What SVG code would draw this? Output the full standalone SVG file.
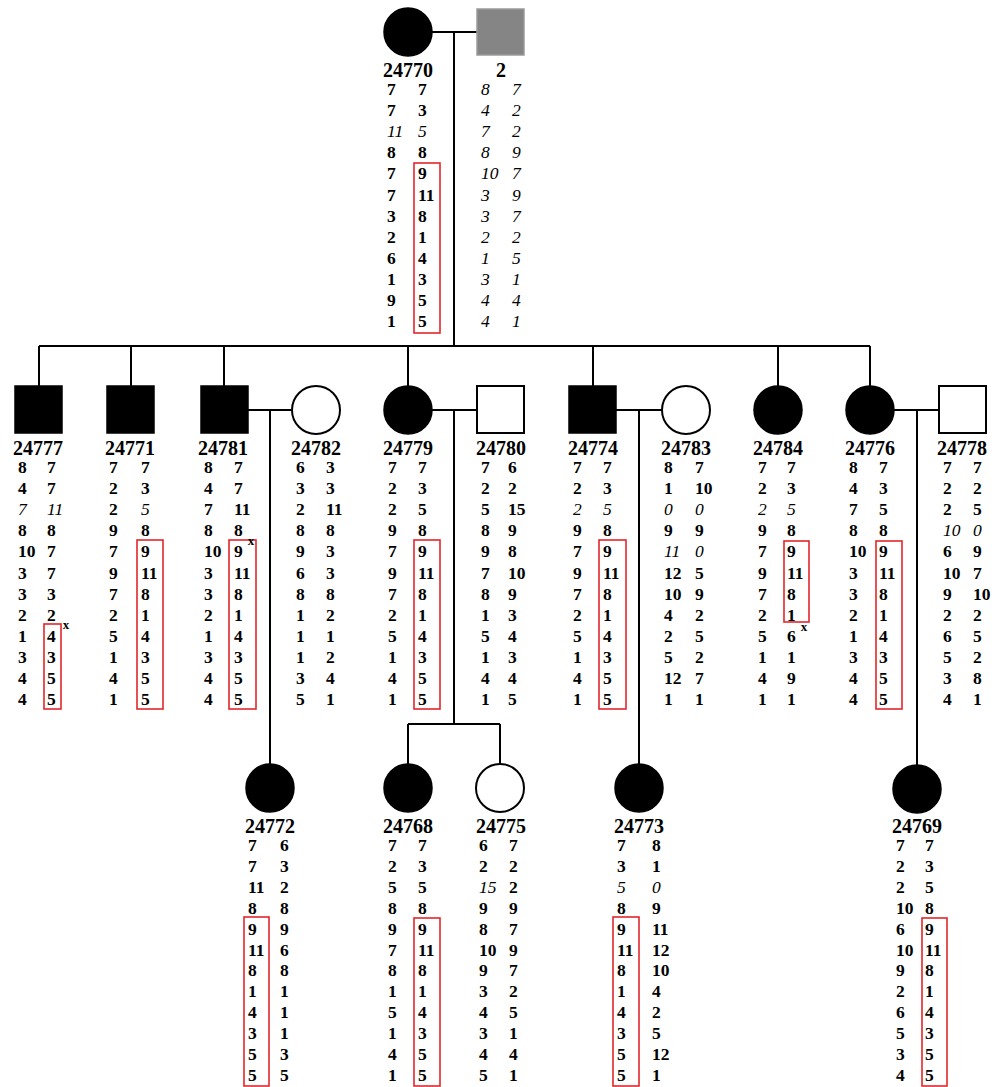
<svg xmlns="http://www.w3.org/2000/svg" width="1003" height="1087" viewBox="0 0 1003 1087">
<style>
.lbl{font:bold 20px "Liberation Serif",serif;text-anchor:middle;fill:#000}
.d{font:bold 17.5px "Liberation Serif",serif;fill:#000}
.i{font-style:italic;font-weight:normal}
.box{fill:none;stroke:#e3262b;stroke-width:1.6}
.aff{fill:#000;stroke:#000;stroke-width:1.5}
.un{fill:#fff;stroke:#000;stroke-width:2}
.gray{fill:#858585;stroke:#9a9a9a;stroke-width:1.5}
.ln{stroke:#000;stroke-width:2;fill:none}
.xm{font:bold 13px "Liberation Serif",serif;text-anchor:middle}
</style>
<rect width="1003" height="1087" fill="#fff"/>
<g id="connectors" class="ln">
<path d="M432 32H477M454 32V346M39 346H870M39 346V386M131 346V386M224 346V386M408 346V386M593 346V386M778 346V386M870 346V386"/>
<path d="M248 410H292M270 410V764M432 410H477M454 410V724M408 724H500M408 724V764M500 724V764M616 410H662M639 410V764M894 410H939M917 410V765"/>
</g>
<g id="n24770"><circle class="aff" cx="408" cy="32" r="24"/><text class="lbl" x="408" y="77">24770</text>
<text class="d" y="95"><tspan x="387">7</tspan><tspan x="387" dy="21.1">7</tspan><tspan x="387" dy="21.1" class="i">11</tspan><tspan x="387" dy="21.1">8</tspan><tspan x="387" dy="21.1">7</tspan><tspan x="387" dy="21.1">7</tspan><tspan x="387" dy="21.1">3</tspan><tspan x="387" dy="21.1">2</tspan><tspan x="387" dy="21.1">6</tspan><tspan x="387" dy="21.1">1</tspan><tspan x="387" dy="21.1">9</tspan><tspan x="387" dy="21.1">1</tspan></text>
<text class="d" y="95"><tspan x="418">7</tspan><tspan x="418" dy="21.1">3</tspan><tspan x="418" dy="21.1" class="i">5</tspan><tspan x="418" dy="21.1">8</tspan><tspan x="418" dy="21.1">9</tspan><tspan x="418" dy="21.1">11</tspan><tspan x="418" dy="21.1">8</tspan><tspan x="418" dy="21.1">1</tspan><tspan x="418" dy="21.1">4</tspan><tspan x="418" dy="21.1">3</tspan><tspan x="418" dy="21.1">5</tspan><tspan x="418" dy="21.1">5</tspan></text>
<rect class="box" x="414" y="163" width="26" height="170"/></g>
<g id="n2"><rect class="gray" x="477" y="9" width="47" height="46"/><text class="lbl" x="501" y="77">2</text>
<text class="d i" y="95"><tspan x="481">8</tspan><tspan x="481" dy="21.1">4</tspan><tspan x="481" dy="21.1">7</tspan><tspan x="481" dy="21.1">8</tspan><tspan x="481" dy="21.1">10</tspan><tspan x="481" dy="21.1">3</tspan><tspan x="481" dy="21.1">3</tspan><tspan x="481" dy="21.1">2</tspan><tspan x="481" dy="21.1">1</tspan><tspan x="481" dy="21.1">3</tspan><tspan x="481" dy="21.1">4</tspan><tspan x="481" dy="21.1">4</tspan></text>
<text class="d i" y="95"><tspan x="512">7</tspan><tspan x="512" dy="21.1">2</tspan><tspan x="512" dy="21.1">2</tspan><tspan x="512" dy="21.1">9</tspan><tspan x="512" dy="21.1">7</tspan><tspan x="512" dy="21.1">9</tspan><tspan x="512" dy="21.1">7</tspan><tspan x="512" dy="21.1">2</tspan><tspan x="512" dy="21.1">5</tspan><tspan x="512" dy="21.1">1</tspan><tspan x="512" dy="21.1">4</tspan><tspan x="512" dy="21.1">1</tspan></text></g>
<g id="n24777"><rect class="aff" x="15" y="386" width="47" height="47"/><text class="lbl" x="38" y="455">24777</text>
<text class="d" y="473"><tspan x="18">8</tspan><tspan x="18" dy="21.1">4</tspan><tspan x="18" dy="21.1" class="i">7</tspan><tspan x="18" dy="21.1">8</tspan><tspan x="18" dy="21.1">10</tspan><tspan x="18" dy="21.1">3</tspan><tspan x="18" dy="21.1">3</tspan><tspan x="18" dy="21.1">2</tspan><tspan x="18" dy="21.1">1</tspan><tspan x="18" dy="21.1">3</tspan><tspan x="18" dy="21.1">4</tspan><tspan x="18" dy="21.1">4</tspan></text>
<text class="d" y="473"><tspan x="47">7</tspan><tspan x="47" dy="21.1">7</tspan><tspan x="47" dy="21.1" class="i">11</tspan><tspan x="47" dy="21.1">8</tspan><tspan x="47" dy="21.1">7</tspan><tspan x="47" dy="21.1">7</tspan><tspan x="47" dy="21.1">3</tspan><tspan x="47" dy="21.1">2</tspan><tspan x="47" dy="21.1">4</tspan><tspan x="47" dy="21.1">3</tspan><tspan x="47" dy="21.1">5</tspan><tspan x="47" dy="21.1">5</tspan></text>
<rect class="box" x="44" y="624" width="17" height="85"/><text class="xm" x="66" y="629">x</text></g>
<g id="n24771"><rect class="aff" x="107" y="386" width="47" height="47"/><text class="lbl" x="130" y="455">24771</text>
<text class="d" y="473"><tspan x="109">7</tspan><tspan x="109" dy="21.1">2</tspan><tspan x="109" dy="21.1">2</tspan><tspan x="109" dy="21.1">9</tspan><tspan x="109" dy="21.1">7</tspan><tspan x="109" dy="21.1">9</tspan><tspan x="109" dy="21.1">7</tspan><tspan x="109" dy="21.1">2</tspan><tspan x="109" dy="21.1">5</tspan><tspan x="109" dy="21.1">1</tspan><tspan x="109" dy="21.1">4</tspan><tspan x="109" dy="21.1">1</tspan></text>
<text class="d" y="473"><tspan x="141">7</tspan><tspan x="141" dy="21.1">3</tspan><tspan x="141" dy="21.1" class="i">5</tspan><tspan x="141" dy="21.1">8</tspan><tspan x="141" dy="21.1">9</tspan><tspan x="141" dy="21.1">11</tspan><tspan x="141" dy="21.1">8</tspan><tspan x="141" dy="21.1">1</tspan><tspan x="141" dy="21.1">4</tspan><tspan x="141" dy="21.1">3</tspan><tspan x="141" dy="21.1">5</tspan><tspan x="141" dy="21.1">5</tspan></text>
<rect class="box" x="137" y="540" width="26" height="169"/></g>
<g id="n24781"><rect class="aff" x="201" y="386" width="47" height="47"/><text class="lbl" x="223" y="455">24781</text>
<text class="d" y="473"><tspan x="204">8</tspan><tspan x="204" dy="21.1">4</tspan><tspan x="204" dy="21.1">7</tspan><tspan x="204" dy="21.1">8</tspan><tspan x="204" dy="21.1">10</tspan><tspan x="204" dy="21.1">3</tspan><tspan x="204" dy="21.1">3</tspan><tspan x="204" dy="21.1">2</tspan><tspan x="204" dy="21.1">1</tspan><tspan x="204" dy="21.1">3</tspan><tspan x="204" dy="21.1">4</tspan><tspan x="204" dy="21.1">4</tspan></text>
<text class="d" y="473"><tspan x="234">7</tspan><tspan x="234" dy="21.1">7</tspan><tspan x="234" dy="21.1">11</tspan><tspan x="234" dy="21.1">8</tspan><tspan x="234" dy="21.1">9</tspan><tspan x="234" dy="21.1">11</tspan><tspan x="234" dy="21.1">8</tspan><tspan x="234" dy="21.1">1</tspan><tspan x="234" dy="21.1">4</tspan><tspan x="234" dy="21.1">3</tspan><tspan x="234" dy="21.1">5</tspan><tspan x="234" dy="21.1">5</tspan></text>
<rect class="box" x="229" y="540" width="27" height="169"/><text class="xm" x="251" y="545">x</text></g>
<g id="n24782"><circle class="un" cx="316" cy="410" r="24"/><text class="lbl" x="316" y="455">24782</text>
<text class="d" y="473"><tspan x="296">6</tspan><tspan x="296" dy="21.1">3</tspan><tspan x="296" dy="21.1">2</tspan><tspan x="296" dy="21.1">8</tspan><tspan x="296" dy="21.1">9</tspan><tspan x="296" dy="21.1">6</tspan><tspan x="296" dy="21.1">8</tspan><tspan x="296" dy="21.1">1</tspan><tspan x="296" dy="21.1">1</tspan><tspan x="296" dy="21.1">1</tspan><tspan x="296" dy="21.1">3</tspan><tspan x="296" dy="21.1">5</tspan></text>
<text class="d" y="473"><tspan x="326">3</tspan><tspan x="326" dy="21.1">3</tspan><tspan x="326" dy="21.1">11</tspan><tspan x="326" dy="21.1">8</tspan><tspan x="326" dy="21.1">3</tspan><tspan x="326" dy="21.1">3</tspan><tspan x="326" dy="21.1">8</tspan><tspan x="326" dy="21.1">2</tspan><tspan x="326" dy="21.1">1</tspan><tspan x="326" dy="21.1">2</tspan><tspan x="326" dy="21.1">4</tspan><tspan x="326" dy="21.1">1</tspan></text></g>
<g id="n24779"><circle class="aff" cx="408" cy="410" r="24"/><text class="lbl" x="408" y="455">24779</text>
<text class="d" y="473"><tspan x="388">7</tspan><tspan x="388" dy="21.1">2</tspan><tspan x="388" dy="21.1">2</tspan><tspan x="388" dy="21.1">9</tspan><tspan x="388" dy="21.1">7</tspan><tspan x="388" dy="21.1">9</tspan><tspan x="388" dy="21.1">7</tspan><tspan x="388" dy="21.1">2</tspan><tspan x="388" dy="21.1">5</tspan><tspan x="388" dy="21.1">1</tspan><tspan x="388" dy="21.1">4</tspan><tspan x="388" dy="21.1">1</tspan></text>
<text class="d" y="473"><tspan x="418">7</tspan><tspan x="418" dy="21.1">3</tspan><tspan x="418" dy="21.1">5</tspan><tspan x="418" dy="21.1">8</tspan><tspan x="418" dy="21.1">9</tspan><tspan x="418" dy="21.1">11</tspan><tspan x="418" dy="21.1">8</tspan><tspan x="418" dy="21.1">1</tspan><tspan x="418" dy="21.1">4</tspan><tspan x="418" dy="21.1">3</tspan><tspan x="418" dy="21.1">5</tspan><tspan x="418" dy="21.1">5</tspan></text>
<rect class="box" x="414" y="540" width="26" height="169"/></g>
<g id="n24780"><rect class="un" x="477" y="386" width="47" height="47"/><text class="lbl" x="501" y="455">24780</text>
<text class="d" y="473"><tspan x="481">7</tspan><tspan x="481" dy="21.1">2</tspan><tspan x="481" dy="21.1">5</tspan><tspan x="481" dy="21.1">8</tspan><tspan x="481" dy="21.1">9</tspan><tspan x="481" dy="21.1">7</tspan><tspan x="481" dy="21.1">8</tspan><tspan x="481" dy="21.1">1</tspan><tspan x="481" dy="21.1">5</tspan><tspan x="481" dy="21.1">1</tspan><tspan x="481" dy="21.1">4</tspan><tspan x="481" dy="21.1">1</tspan></text>
<text class="d" y="473"><tspan x="508">6</tspan><tspan x="508" dy="21.1">2</tspan><tspan x="508" dy="21.1">15</tspan><tspan x="508" dy="21.1">9</tspan><tspan x="508" dy="21.1">8</tspan><tspan x="508" dy="21.1">10</tspan><tspan x="508" dy="21.1">9</tspan><tspan x="508" dy="21.1">3</tspan><tspan x="508" dy="21.1">4</tspan><tspan x="508" dy="21.1">3</tspan><tspan x="508" dy="21.1">4</tspan><tspan x="508" dy="21.1">5</tspan></text></g>
<g id="n24774"><rect class="aff" x="569" y="386" width="47" height="47"/><text class="lbl" x="593" y="455">24774</text>
<text class="d" y="473"><tspan x="573">7</tspan><tspan x="573" dy="21.1">2</tspan><tspan x="573" dy="21.1" class="i">2</tspan><tspan x="573" dy="21.1">9</tspan><tspan x="573" dy="21.1">7</tspan><tspan x="573" dy="21.1">9</tspan><tspan x="573" dy="21.1">7</tspan><tspan x="573" dy="21.1">2</tspan><tspan x="573" dy="21.1">5</tspan><tspan x="573" dy="21.1">1</tspan><tspan x="573" dy="21.1">4</tspan><tspan x="573" dy="21.1">1</tspan></text>
<text class="d" y="473"><tspan x="603">7</tspan><tspan x="603" dy="21.1">3</tspan><tspan x="603" dy="21.1" class="i">5</tspan><tspan x="603" dy="21.1">8</tspan><tspan x="603" dy="21.1">9</tspan><tspan x="603" dy="21.1">11</tspan><tspan x="603" dy="21.1">8</tspan><tspan x="603" dy="21.1">1</tspan><tspan x="603" dy="21.1">4</tspan><tspan x="603" dy="21.1">3</tspan><tspan x="603" dy="21.1">5</tspan><tspan x="603" dy="21.1">5</tspan></text>
<rect class="box" x="599" y="540" width="27" height="169"/></g>
<g id="n24783"><circle class="un" cx="686" cy="410" r="24"/><text class="lbl" x="686" y="455">24783</text>
<text class="d" y="473"><tspan x="664">8</tspan><tspan x="664" dy="21.1">1</tspan><tspan x="664" dy="21.1" class="i">0</tspan><tspan x="664" dy="21.1">9</tspan><tspan x="664" dy="21.1" class="i">11</tspan><tspan x="664" dy="21.1">12</tspan><tspan x="664" dy="21.1">10</tspan><tspan x="664" dy="21.1">4</tspan><tspan x="664" dy="21.1">2</tspan><tspan x="664" dy="21.1">5</tspan><tspan x="664" dy="21.1">12</tspan><tspan x="664" dy="21.1">1</tspan></text>
<text class="d" y="473"><tspan x="695">7</tspan><tspan x="695" dy="21.1">10</tspan><tspan x="695" dy="21.1" class="i">0</tspan><tspan x="695" dy="21.1">9</tspan><tspan x="695" dy="21.1" class="i">0</tspan><tspan x="695" dy="21.1">5</tspan><tspan x="695" dy="21.1">9</tspan><tspan x="695" dy="21.1">2</tspan><tspan x="695" dy="21.1">5</tspan><tspan x="695" dy="21.1">2</tspan><tspan x="695" dy="21.1">7</tspan><tspan x="695" dy="21.1">1</tspan></text></g>
<g id="n24784"><circle class="aff" cx="778" cy="410" r="24"/><text class="lbl" x="778" y="455">24784</text>
<text class="d" y="473"><tspan x="758">7</tspan><tspan x="758" dy="21.1">2</tspan><tspan x="758" dy="21.1" class="i">2</tspan><tspan x="758" dy="21.1">9</tspan><tspan x="758" dy="21.1">7</tspan><tspan x="758" dy="21.1">9</tspan><tspan x="758" dy="21.1">7</tspan><tspan x="758" dy="21.1">2</tspan><tspan x="758" dy="21.1">5</tspan><tspan x="758" dy="21.1">1</tspan><tspan x="758" dy="21.1">4</tspan><tspan x="758" dy="21.1">1</tspan></text>
<text class="d" y="473"><tspan x="787">7</tspan><tspan x="787" dy="21.1">3</tspan><tspan x="787" dy="21.1" class="i">5</tspan><tspan x="787" dy="21.1">8</tspan><tspan x="787" dy="21.1">9</tspan><tspan x="787" dy="21.1">11</tspan><tspan x="787" dy="21.1">8</tspan><tspan x="787" dy="21.1">1</tspan><tspan x="787" dy="21.1">6</tspan><tspan x="787" dy="21.1">1</tspan><tspan x="787" dy="21.1">9</tspan><tspan x="787" dy="21.1">1</tspan></text>
<rect class="box" x="784" y="541" width="25" height="81"/><text class="xm" x="804" y="631">x</text></g>
<g id="n24776"><circle class="aff" cx="870" cy="410" r="24"/><text class="lbl" x="870" y="455">24776</text>
<text class="d" y="473"><tspan x="849">8</tspan><tspan x="849" dy="21.1">4</tspan><tspan x="849" dy="21.1">7</tspan><tspan x="849" dy="21.1">8</tspan><tspan x="849" dy="21.1">10</tspan><tspan x="849" dy="21.1">3</tspan><tspan x="849" dy="21.1">3</tspan><tspan x="849" dy="21.1">2</tspan><tspan x="849" dy="21.1">1</tspan><tspan x="849" dy="21.1">3</tspan><tspan x="849" dy="21.1">4</tspan><tspan x="849" dy="21.1">4</tspan></text>
<text class="d" y="473"><tspan x="879">7</tspan><tspan x="879" dy="21.1">3</tspan><tspan x="879" dy="21.1">5</tspan><tspan x="879" dy="21.1">8</tspan><tspan x="879" dy="21.1">9</tspan><tspan x="879" dy="21.1">11</tspan><tspan x="879" dy="21.1">8</tspan><tspan x="879" dy="21.1">1</tspan><tspan x="879" dy="21.1">4</tspan><tspan x="879" dy="21.1">3</tspan><tspan x="879" dy="21.1">5</tspan><tspan x="879" dy="21.1">5</tspan></text>
<rect class="box" x="876" y="541" width="26" height="168"/></g>
<g id="n24778"><rect class="un" x="939" y="386" width="47" height="47"/><text class="lbl" x="962" y="455">24778</text>
<text class="d" y="473"><tspan x="943">7</tspan><tspan x="943" dy="21.1">2</tspan><tspan x="943" dy="21.1">2</tspan><tspan x="943" dy="21.1" class="i">10</tspan><tspan x="943" dy="21.1">6</tspan><tspan x="943" dy="21.1">10</tspan><tspan x="943" dy="21.1">9</tspan><tspan x="943" dy="21.1">2</tspan><tspan x="943" dy="21.1">6</tspan><tspan x="943" dy="21.1">5</tspan><tspan x="943" dy="21.1">3</tspan><tspan x="943" dy="21.1">4</tspan></text>
<text class="d" y="473"><tspan x="973">7</tspan><tspan x="973" dy="21.1">2</tspan><tspan x="973" dy="21.1">5</tspan><tspan x="973" dy="21.1" class="i">0</tspan><tspan x="973" dy="21.1">9</tspan><tspan x="973" dy="21.1">7</tspan><tspan x="973" dy="21.1">10</tspan><tspan x="973" dy="21.1">2</tspan><tspan x="973" dy="21.1">5</tspan><tspan x="973" dy="21.1">2</tspan><tspan x="973" dy="21.1">8</tspan><tspan x="973" dy="21.1">1</tspan></text></g>
<g id="n24772"><circle class="aff" cx="270" cy="788" r="24"/><text class="lbl" x="270" y="833">24772</text>
<text class="d" y="851"><tspan x="248">7</tspan><tspan x="248" dy="20.9">7</tspan><tspan x="248" dy="20.9">11</tspan><tspan x="248" dy="20.9">8</tspan><tspan x="248" dy="20.9">9</tspan><tspan x="248" dy="20.9">11</tspan><tspan x="248" dy="20.9">8</tspan><tspan x="248" dy="20.9">1</tspan><tspan x="248" dy="20.9">4</tspan><tspan x="248" dy="20.9">3</tspan><tspan x="248" dy="20.9">5</tspan><tspan x="248" dy="20.9">5</tspan></text>
<text class="d" y="851"><tspan x="280">6</tspan><tspan x="280" dy="20.9">3</tspan><tspan x="280" dy="20.9">2</tspan><tspan x="280" dy="20.9">8</tspan><tspan x="280" dy="20.9">9</tspan><tspan x="280" dy="20.9">6</tspan><tspan x="280" dy="20.9">8</tspan><tspan x="280" dy="20.9">1</tspan><tspan x="280" dy="20.9">1</tspan><tspan x="280" dy="20.9">1</tspan><tspan x="280" dy="20.9">3</tspan><tspan x="280" dy="20.9">5</tspan></text>
<rect class="box" x="244" y="917" width="25" height="169"/></g>
<g id="n24768"><circle class="aff" cx="408" cy="788" r="24"/><text class="lbl" x="408" y="833">24768</text>
<text class="d" y="851"><tspan x="388">7</tspan><tspan x="388" dy="20.9">2</tspan><tspan x="388" dy="20.9">5</tspan><tspan x="388" dy="20.9">8</tspan><tspan x="388" dy="20.9">9</tspan><tspan x="388" dy="20.9">7</tspan><tspan x="388" dy="20.9">8</tspan><tspan x="388" dy="20.9">1</tspan><tspan x="388" dy="20.9">5</tspan><tspan x="388" dy="20.9">1</tspan><tspan x="388" dy="20.9">4</tspan><tspan x="388" dy="20.9">1</tspan></text>
<text class="d" y="851"><tspan x="418">7</tspan><tspan x="418" dy="20.9">3</tspan><tspan x="418" dy="20.9">5</tspan><tspan x="418" dy="20.9">8</tspan><tspan x="418" dy="20.9">9</tspan><tspan x="418" dy="20.9">11</tspan><tspan x="418" dy="20.9">8</tspan><tspan x="418" dy="20.9">1</tspan><tspan x="418" dy="20.9">4</tspan><tspan x="418" dy="20.9">3</tspan><tspan x="418" dy="20.9">5</tspan><tspan x="418" dy="20.9">5</tspan></text>
<rect class="box" x="414" y="918" width="26" height="168"/></g>
<g id="n24775"><circle class="un" cx="500" cy="788" r="24"/><text class="lbl" x="501" y="833">24775</text>
<text class="d" y="851"><tspan x="479">6</tspan><tspan x="479" dy="20.9">2</tspan><tspan x="479" dy="20.9" class="i">15</tspan><tspan x="479" dy="20.9">9</tspan><tspan x="479" dy="20.9">8</tspan><tspan x="479" dy="20.9">10</tspan><tspan x="479" dy="20.9">9</tspan><tspan x="479" dy="20.9">3</tspan><tspan x="479" dy="20.9">4</tspan><tspan x="479" dy="20.9">3</tspan><tspan x="479" dy="20.9">4</tspan><tspan x="479" dy="20.9">5</tspan></text>
<text class="d" y="851"><tspan x="509">7</tspan><tspan x="509" dy="20.9">2</tspan><tspan x="509" dy="20.9">2</tspan><tspan x="509" dy="20.9">9</tspan><tspan x="509" dy="20.9">7</tspan><tspan x="509" dy="20.9">9</tspan><tspan x="509" dy="20.9">7</tspan><tspan x="509" dy="20.9">2</tspan><tspan x="509" dy="20.9">5</tspan><tspan x="509" dy="20.9">1</tspan><tspan x="509" dy="20.9">4</tspan><tspan x="509" dy="20.9">1</tspan></text></g>
<g id="n24773"><circle class="aff" cx="639" cy="788" r="24"/><text class="lbl" x="639" y="833">24773</text>
<text class="d" y="851"><tspan x="617">7</tspan><tspan x="617" dy="20.9">3</tspan><tspan x="617" dy="20.9" class="i">5</tspan><tspan x="617" dy="20.9">8</tspan><tspan x="617" dy="20.9">9</tspan><tspan x="617" dy="20.9">11</tspan><tspan x="617" dy="20.9">8</tspan><tspan x="617" dy="20.9">1</tspan><tspan x="617" dy="20.9">4</tspan><tspan x="617" dy="20.9">3</tspan><tspan x="617" dy="20.9">5</tspan><tspan x="617" dy="20.9">5</tspan></text>
<text class="d" y="851"><tspan x="652">8</tspan><tspan x="652" dy="20.9">1</tspan><tspan x="652" dy="20.9" class="i">0</tspan><tspan x="652" dy="20.9">9</tspan><tspan x="652" dy="20.9">11</tspan><tspan x="652" dy="20.9">12</tspan><tspan x="652" dy="20.9">10</tspan><tspan x="652" dy="20.9">4</tspan><tspan x="652" dy="20.9">2</tspan><tspan x="652" dy="20.9">5</tspan><tspan x="652" dy="20.9">12</tspan><tspan x="652" dy="20.9">1</tspan></text>
<rect class="box" x="613" y="917" width="26" height="169"/></g>
<g id="n24769"><circle class="aff" cx="917" cy="789" r="24"/><text class="lbl" x="917" y="833">24769</text>
<text class="d" y="851"><tspan x="896">7</tspan><tspan x="896" dy="20.9">2</tspan><tspan x="896" dy="20.9">2</tspan><tspan x="896" dy="20.9">10</tspan><tspan x="896" dy="20.9">6</tspan><tspan x="896" dy="20.9">10</tspan><tspan x="896" dy="20.9">9</tspan><tspan x="896" dy="20.9">2</tspan><tspan x="896" dy="20.9">6</tspan><tspan x="896" dy="20.9">5</tspan><tspan x="896" dy="20.9">3</tspan><tspan x="896" dy="20.9">4</tspan></text>
<text class="d" y="851"><tspan x="925">7</tspan><tspan x="925" dy="20.9">3</tspan><tspan x="925" dy="20.9">5</tspan><tspan x="925" dy="20.9">8</tspan><tspan x="925" dy="20.9">9</tspan><tspan x="925" dy="20.9">11</tspan><tspan x="925" dy="20.9">8</tspan><tspan x="925" dy="20.9">1</tspan><tspan x="925" dy="20.9">4</tspan><tspan x="925" dy="20.9">3</tspan><tspan x="925" dy="20.9">5</tspan><tspan x="925" dy="20.9">5</tspan></text>
<rect class="box" x="922" y="918" width="25" height="168"/></g>
</svg>
